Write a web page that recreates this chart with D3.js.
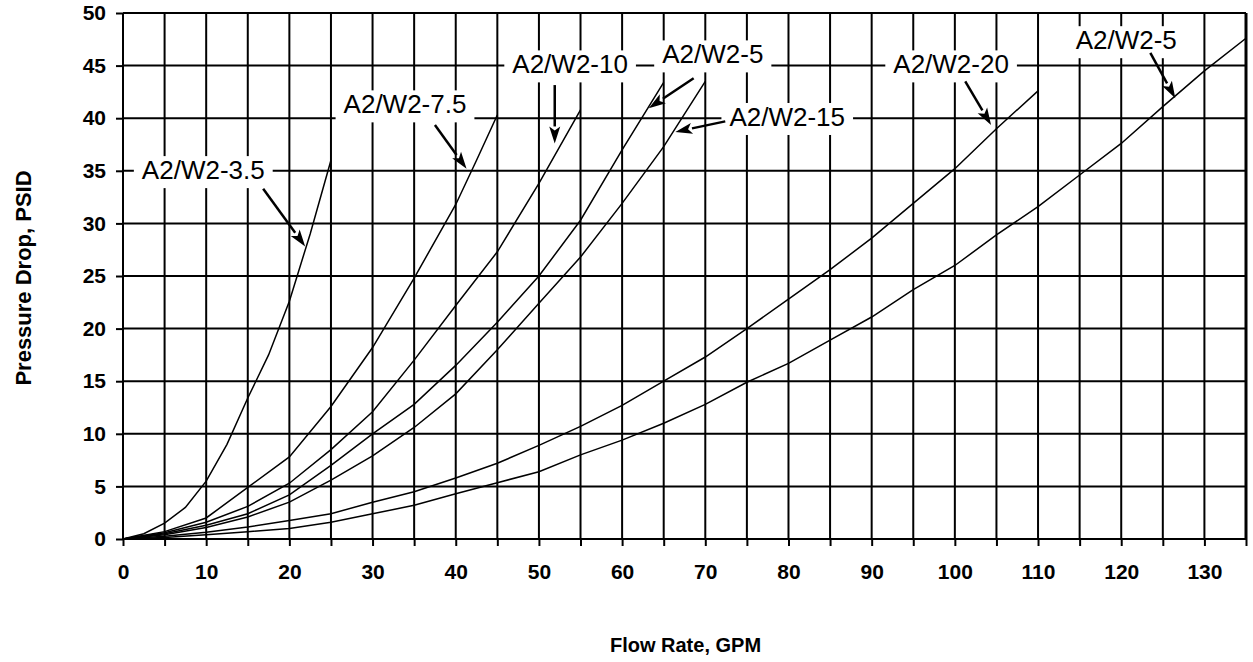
<!DOCTYPE html>
<html>
<head>
<meta charset="utf-8">
<script src="https://cdnjs.cloudflare.com/ajax/libs/d3/7.8.5/d3.min.js"></script>
<style>
body { margin: 0; background: #fff; }
text { font-family: "Liberation Sans", Arial, sans-serif; }
.grid line { stroke: #000; stroke-width: 2; }
.axis text { font-size: 21px; font-weight: bold; fill: #000; }
.axis line { stroke: #000; stroke-width: 2; }
.curve { fill: none; stroke: #000; stroke-width: 1.5; }
.tag text { font-size: 26px; fill: #000; }
</style>
</head>
<body>
<div id="chart"></div>
<script>
// flow (GPM) and pressure drop (PSID)
var flow35 = [0, 2.5, 5, 7.5, 10, 12.5, 15, 17.5, 20, 22.5, 25];
var dp35   = [0, 0.5, 1.5, 3, 5.5, 9, 13.4, 17.5, 22.6, 29, 36];

var flow75 = [0, 5, 10, 15, 20, 25, 30, 35, 40, 42.5, 45];
var dp75   = [0, 0.7, 2, 4.9, 7.8, 12.6, 18.2, 24.8, 31.8, 36, 40.3];

var flow10 = [0, 5, 10, 15, 20, 25, 30, 35, 40, 45, 50, 55];
var dp10   = [0, 0.6, 1.6, 3.1, 5.3, 8.5, 12.1, 17, 22.2, 27.3, 33.8, 40.8];

var flow5a = [0, 5, 10, 15, 20, 25, 30, 35, 40, 45, 50, 55, 60, 65];
var dp5a   = [0, 0.5, 1.3, 2.4, 4.2, 7, 10, 12.8, 16.5, 20.6, 25, 30.3, 37, 43.4];

var flow15 = [0, 5, 10, 15, 20, 25, 30, 35, 40, 45, 50, 55, 60, 65, 70];
var dp15   = [0, 0.4, 1.1, 2.1, 3.5, 5.6, 7.9, 10.6, 13.8, 18, 22.4, 26.8, 31.9, 37.3, 43.5];

var flow20 = [0, 5, 10, 15, 20, 25, 30, 35, 40, 45, 50, 55, 60, 65, 70, 75, 80, 85, 90, 95, 100, 105, 110];
var dp20   = [0, 0.25, 0.65, 1.15, 1.75, 2.4, 3.5, 4.5, 5.8, 7.2, 8.9, 10.7, 12.7, 15, 17.3, 20, 22.8, 25.6, 28.6, 31.9, 35.2, 39, 42.6];

var flow5b = [0, 5, 10, 15, 20, 25, 30, 35, 40, 45, 50, 55, 60, 65, 70, 75, 80, 85, 90, 95, 100, 105, 110, 115, 120, 125, 130, 135];
var dp5b   = [0, 0.15, 0.4, 0.7, 1, 1.6, 2.4, 3.2, 4.3, 5.35, 6.4, 8, 9.4, 11, 12.8, 14.9, 16.7, 18.9, 21.1, 23.7, 26, 28.9, 31.6, 34.6, 37.6, 41.1, 44.5, 47.6];

var names = ["A2/W2-3.5", "A2/W2-7.5", "A2/W2-10", "A2/W2-5", "A2/W2-15", "A2/W2-20", "A2/W2-5"];
var xTickLabels = d3.range(0, 131, 10);
var yTickLabels = d3.range(0, 51, 5);

var series = [
    d3.zip(flow35, dp35), d3.zip(flow75, dp75), d3.zip(flow10, dp10),
    d3.zip(flow5a, dp5a), d3.zip(flow15, dp15), d3.zip(flow20, dp20), d3.zip(flow5b, dp5b)
];

// label callouts in data units: text centre, arrow start, arrow tip
var callouts = [
    { tx: 9.65,  ty: 35.1,  x1: 16.85, y1: 33.3,  x2: 21.9,  y2: 27.8 },
    { tx: 33.9,  ty: 41.35, x1: 37.5,  y1: 39.35, x2: 41.3,  y2: 35.2 },
    { tx: 53.75, ty: 45.15, x1: 51.9,  y1: 43.15, x2: 51.9,  y2: 37.6 },
    { tx: 70.9,  ty: 46.1,  x1: 68.6,  y1: 43.8,  x2: 63.2,  y2: 40.95 },
    { tx: 79.85, ty: 40.15, x1: 72.4,  y1: 39.7,  x2: 66.4,  y2: 38.7 },
    { tx: 99.55, ty: 45.15, x1: 101.25, y1: 43.5, x2: 104.35, y2: 39.35 },
    { tx: 120.6, ty: 47.45, x1: 123.5, y1: 46.2,  x2: 126.5, y2: 41.9 }
];

var margin = { top: 13, right: 7, bottom: 123, left: 123 },
    width = 1253 - margin.left - margin.right,
    height = 662 - margin.top - margin.bottom;

var scalex = d3.scaleLinear().domain([0, 135]).range([0, width]);
var scaley = d3.scaleLinear().domain([0, 50]).range([height, 0]);

var svg = d3.select("#chart").append("svg")
    .attr("width", width + margin.left + margin.right)
    .attr("height", height + margin.top + margin.bottom)
    .append("g")
    .attr("transform", "translate(" + margin.left + "," + margin.top + ")");

// grid
var grid = svg.append("g").attr("class", "grid");
grid.selectAll(".v").data(d3.range(0, 136, 5)).enter().append("line")
    .attr("x1", function (d) { return scalex(d); })
    .attr("x2", function (d) { return scalex(d); })
    .attr("y1", 0).attr("y2", height)
    .style("stroke-width", function (d) { return d === 135 ? 3 : 2; });
grid.selectAll(".h").data(yTickLabels).enter().append("line")
    .attr("x1", 0).attr("x2", width)
    .attr("y1", function (d) { return scaley(d); })
    .attr("y2", function (d) { return scaley(d); });

// axes
var xAxis = svg.append("g").attr("class", "axis")
    .attr("transform", "translate(0," + height + ")")
    .call(d3.axisBottom(scalex)
        .tickValues(d3.range(0, 136, 5))
        .tickSize(7).tickPadding(18)
        .tickFormat(function (d) { return xTickLabels.indexOf(d) >= 0 ? d : ""; }));
xAxis.select(".domain").remove();

var yAxis = svg.append("g").attr("class", "axis")
    .call(d3.axisLeft(scaley)
        .tickValues(yTickLabels)
        .tickSize(7).tickPadding(10));
yAxis.select(".domain").remove();

// curves
var valueline = d3.line()
    .x(function (d) { return scalex(d[0]); })
    .y(function (d) { return scaley(d[1]); });

svg.selectAll(".curve").data(series).enter().append("path")
    .attr("class", "curve")
    .attr("d", valueline);

// callouts
var tags = svg.selectAll(".tag").data(callouts).enter().append("g").attr("class", "tag");

tags.each(function (d, i) {
    var g = d3.select(this);
    var box = g.append("rect").attr("fill", "#fff");
    var t = g.append("text")
        .attr("x", scalex(d.tx)).attr("y", scaley(d.ty))
        .attr("dy", "0.36em")
        .attr("text-anchor", "middle")
        .text(names[i]);
    var bb = t.node().getBBox();
    box.attr("x", bb.x - 8).attr("y", bb.y + 1)
        .attr("width", bb.width + 16).attr("height", bb.height + 2);

    var ax1 = scalex(d.x1), ay1 = scaley(d.y1), ax2 = scalex(d.x2), ay2 = scaley(d.y2);
    var ang = Math.atan2(ay2 - ay1, ax2 - ax1);
    var hl = 17, hw = 5.5;
    var bx = ax2 - hl * Math.cos(ang), by = ay2 - hl * Math.sin(ang);
    g.append("line")
        .attr("x1", ax1).attr("y1", ay1).attr("x2", bx).attr("y2", by)
        .attr("stroke", "#000").attr("stroke-width", 2.5);
    g.append("path")
        .attr("d", "M" + ax2 + "," + ay2 +
            "L" + (bx - hw * Math.sin(ang)) + "," + (by + hw * Math.cos(ang)) +
            "L" + (bx + 4 * Math.cos(ang)) + "," + (by + 4 * Math.sin(ang)) +
            "L" + (bx + hw * Math.sin(ang)) + "," + (by - hw * Math.cos(ang)) + "Z")
        .attr("fill", "#000");
});

// axis titles
svg.append("text")
    .attr("x", width / 2 + 1).attr("y", height + 113)
    .attr("text-anchor", "middle")
    .style("font-size", "20px").style("font-weight", "bold")
    .text("Flow Rate, GPM");

svg.append("text")
    .attr("transform", "translate(" + (-margin.left + 31) + "," + (height / 2 + 2) + ") rotate(-90)")
    .attr("text-anchor", "middle")
    .style("font-size", "22px").style("font-weight", "bold")
    .text("Pressure Drop, PSID");
</script>
</body>
</html>
